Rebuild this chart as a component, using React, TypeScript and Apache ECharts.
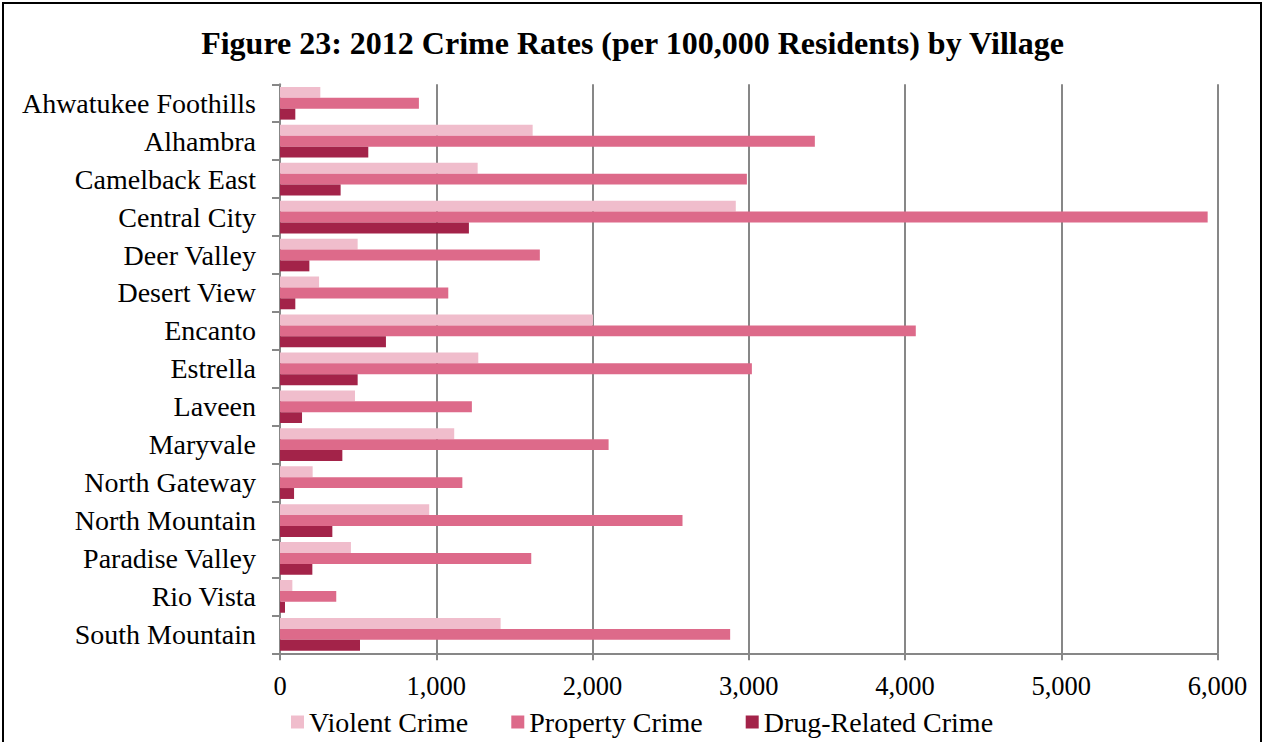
import React, { useEffect, useRef } from "react";
import * as echarts from "echarts";

const villages = [
  "Ahwatukee Foothills",
  "Alhambra",
  "Camelback East",
  "Central City",
  "Deer Valley",
  "Desert View",
  "Encanto",
  "Estrella",
  "Laveen",
  "Maryvale",
  "North Gateway",
  "North Mountain",
  "Paradise Valley",
  "Rio Vista",
  "South Mountain",
];
const violentCrime = [258, 1617, 1265, 2917, 497, 250, 2003, 1269, 480, 1115, 209, 955, 454, 79, 1412];
const propertyCrime = [889, 3423, 2988, 5937, 1663, 1077, 4069, 3020, 1228, 2103, 1167, 2576, 1608, 360, 2881];
const drugCrime = [98, 565, 388, 1209, 188, 98, 678, 497, 141, 399, 90, 335, 207, 32, 512];
const seriesNames = ["Violent Crime", "Property Crime", "Drug-Related Crime"];
const xTicks = { min: 0, max: 6000, interval: 1000 };

const FONT = "'Liberation Serif', 'Times New Roman', serif";

export default function App() {
  const ref = useRef<HTMLDivElement>(null);
  useEffect(() => {
    document.body.style.margin = "0";
    const chart = echarts.init(ref.current!, null, { renderer: "svg" });
    const gridColor = "#878787";
    chart.setOption({
      animation: false,
      backgroundColor: "#fff",
      title: {
        text: "Figure 23: 2012 Crime Rates (per 100,000 Residents) by Village",
        left: "center",
        top: 22,
        textStyle: { fontFamily: FONT, fontSize: 32, fontWeight: "bold", color: "#000" },
      },
      graphic: [
        {
          type: "rect",
          shape: { x: 3, y: 3, width: 1258, height: 760 },
          style: { fill: "none", stroke: "#000", lineWidth: 2 },
          silent: true,
        },
      ],
      legend: {
        left: 291,
        top: 708,
        padding: 0,
        icon: "rect",
        itemWidth: 13,
        itemHeight: 13,
        itemGap: 43,
        textStyle: { fontFamily: FONT, fontSize: 28, color: "#000" },
        data: seriesNames,
      },
      grid: { left: 280, right: 47.5, top: 84.3, bottom: 88.7, containLabel: false },
      xAxis: {
        type: "value",
        min: xTicks.min,
        max: xTicks.max,
        interval: xTicks.interval,
        axisLine: { show: true, lineStyle: { color: gridColor, width: 2 } },
        axisTick: { show: true, length: 7, lineStyle: { color: gridColor, width: 2 } },
        splitLine: { show: true, lineStyle: { color: gridColor, width: 2 } },
        axisLabel: {
          fontFamily: FONT,
          fontSize: 26.5,
          color: "#000",
          margin: 19,
          formatter: (v: number) => v.toLocaleString("en-US"),
        },
      },
      yAxis: {
        type: "category",
        inverse: true,
        data: villages,
        axisLine: { show: true, lineStyle: { color: gridColor, width: 2 } },
        axisTick: { show: true, length: 8, lineStyle: { color: gridColor, width: 2 } },
        axisLabel: { fontFamily: FONT, fontSize: 28, color: "#000", margin: 24 },
      },
      series: [
        { name: seriesNames[0], type: "bar", data: violentCrime, itemStyle: { color: "#F0BDCC" } },
        { name: seriesNames[1], type: "bar", data: propertyCrime, itemStyle: { color: "#DD6A8A" } },
        { name: seriesNames[2], type: "bar", data: drugCrime, itemStyle: { color: "#A32349" } },
      ].map((s) => ({ ...s, barWidth: 10.9, barGap: "0%" })),
    });
    return () => chart.dispose();
  }, []);
  return <div ref={ref} style={{ position: "absolute", left: 0, top: 0, width: 1265, height: 742 }} />;
}
